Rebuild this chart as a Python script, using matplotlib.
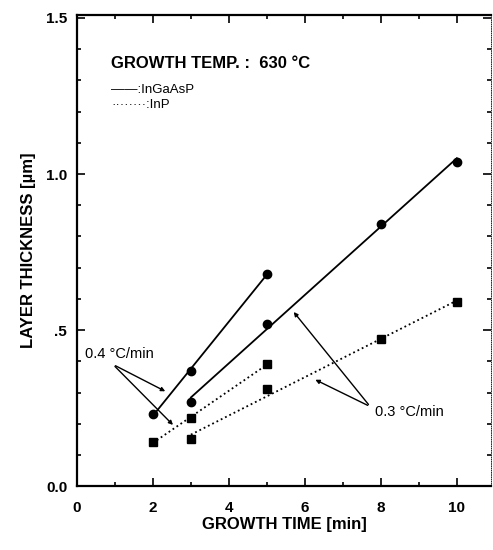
import matplotlib
matplotlib.use("Agg")
import matplotlib.pyplot as plt
import numpy as np
from matplotlib.ticker import MultipleLocator, FixedLocator

plt.rcParams["font.family"] = ["Liberation Sans", "DejaVu Sans"]
plt.rcParams["font.weight"] = "bold"

# growth time [min] and layer thickness [um]
ingaasp_04_t = [2, 3, 5]
ingaasp_04_d = [0.23, 0.37, 0.68]
ingaasp_03_t = [3, 5, 8, 10]
ingaasp_03_d = [0.27, 0.52, 0.84, 1.04]
inp_04_t = [2, 3, 5]
inp_04_d = [0.14, 0.22, 0.39]
inp_03_t = [3, 5, 8, 10]
inp_03_d = [0.15, 0.31, 0.47, 0.59]

x_ticks = [0, 2, 4, 6, 8, 10]
y_ticks = [0.0, 0.5, 1.0, 1.5]
y_tick_labels = ["0.0", ".5", "1.0", "1.5"]

fig = plt.figure(figsize=(4.93, 5.5), dpi=100)
ax = fig.add_axes([0.156, 0.116, 0.84, 0.857])


def fit_line(t, d, style, marker, ms):
    # straight growth-rate line through the points
    k, b = np.polyfit(t, d, 1)
    xs = np.array([t[0], t[-1]])
    ax.plot(xs, k * xs + b, style, color="black", lw=1.3)
    ax.plot(t, d, marker, color="black", ms=ms, ls="none")


fit_line(ingaasp_04_t, ingaasp_04_d, "-", "o", 6)
fit_line(ingaasp_03_t, ingaasp_03_d, "-", "o", 6)
fit_line(inp_04_t, inp_04_d, ":", "s", 5.2)
fit_line(inp_03_t, inp_03_d, ":", "s", 5.2)

ax.set_xlim(0, 10.9)
ax.set_ylim(0, 1.51)
ax.xaxis.set_major_locator(FixedLocator(x_ticks))
ax.xaxis.set_minor_locator(MultipleLocator(1))
ax.set_yticks(y_ticks)
ax.set_yticklabels(y_tick_labels)
ax.yaxis.set_minor_locator(MultipleLocator(0.1))
ax.tick_params(which="both", direction="in", top=True, right=True,
               labelsize=11, width=1.2)
ax.tick_params(axis="x", pad=11)
ax.tick_params(axis="y", pad=7)
ax.tick_params(which="major", length=6)
ax.tick_params(which="minor", length=3)
for side in ["left", "bottom", "top"]:
    ax.spines[side].set_linewidth(1.6)
ax.spines["right"].set_linewidth(0.6)
ax.spines["right"].set_linestyle(":")

ax.set_xlabel("GROWTH TIME [min]", fontsize=12, fontweight="bold", labelpad=1)
ax.set_ylabel("LAYER THICKNESS [\u00b5m]", fontsize=12, fontweight="bold", labelpad=7)

ax.text(0.9, 1.34, "GROWTH TEMP. :  630 \u00b0C", fontsize=12, fontweight="bold")
ax.text(0.9, 1.26, "\u2014\u2014:InGaAsP", fontsize=9.5, fontweight="normal")
ax.text(0.9, 1.21, "\u00b7\u00b7\u00b7\u00b7\u00b7\u00b7\u00b7\u00b7:InP", fontsize=9.5, fontweight="normal")

arrow = dict(arrowstyle="-|>", color="black", lw=1.0, mutation_scale=6)
ax.annotate("", xy=(2.39, 0.30), xytext=(0.95, 0.39), arrowprops=arrow)
ax.annotate("", xy=(2.58, 0.19), xytext=(0.95, 0.39), arrowprops=arrow)
ax.text(0.2, 0.41, "0.4 \u00b0C/min", fontsize=10.5, fontweight="normal")

ax.annotate("", xy=(5.66, 0.565), xytext=(7.72, 0.255), arrowprops=arrow)
ax.annotate("", xy=(6.21, 0.345), xytext=(7.72, 0.255), arrowprops=arrow)
ax.text(7.85, 0.225, "0.3 \u00b0C/min", fontsize=10.5, fontweight="normal")

fig.savefig("out.png", dpi=100)
